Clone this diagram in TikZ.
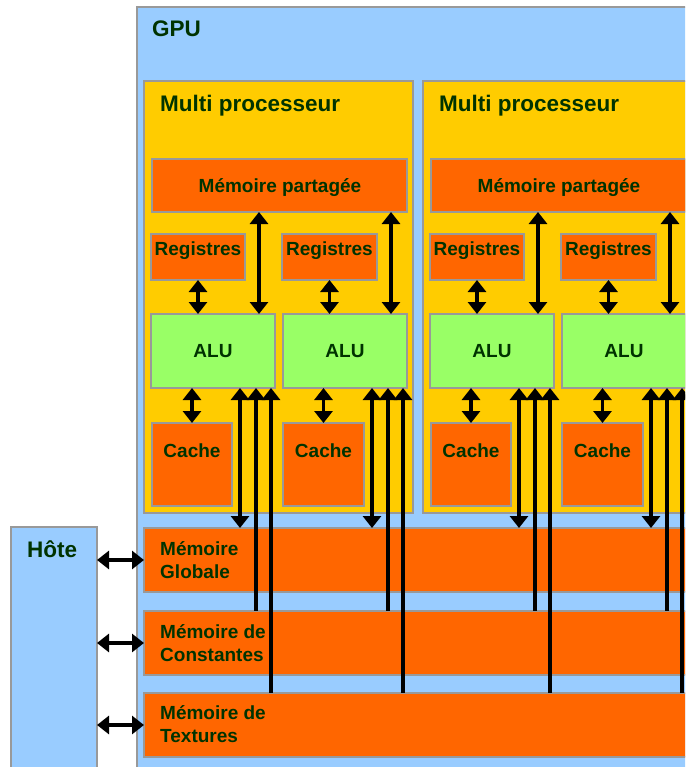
\documentclass[tikz,border=0pt]{standalone}
\usepackage{fontspec}
\setmainfont{Liberation Sans}
\usetikzlibrary{arrows.meta}
\definecolor{gpublue}{HTML}{99CCFF}
\definecolor{mpyellow}{HTML}{FFCC00}
\definecolor{memorange}{HTML}{FF6600}
\definecolor{alugreen}{HTML}{99FF66}
\definecolor{txtgreen}{HTML}{003300}
\definecolor{bordergray}{HTML}{999999}
\begin{document}
\begin{tikzpicture}[x=1pt,y=-1pt,
  box/.style={draw=bordergray, line width=1.3pt, inner sep=0pt, outer sep=0pt, anchor=north west},
  lbl/.style={text=txtgreen, inner sep=0pt, font=\bfseries\fontsize{19}{23}\selectfont},
  lblbig/.style={text=txtgreen, inner sep=0pt, font=\bfseries\fontsize{22.5}{27}\selectfont},
  arr/.style={line width=3.4pt, >={Triangle[width=18pt,length=12pt]}}]
\useasboundingbox (0,0) rectangle (685,767);
\clip (0,0) rectangle (685,767);
\fill[white] (0,0) rectangle (685,767);
% GPU
\node[box, fill=gpublue, minimum width=600pt, minimum height=800pt] (gpu) at (137,7) {};
\node[lblbig, anchor=base west] (gpul) at (152,37) {GPU};
% multiprocessors
\foreach \i/\dx in {1/0,2/279}{
  \node[box, fill=mpyellow, minimum width=269pt, minimum height=432pt] (mp\i) at (144+\dx,81) {};
  \node[lblbig, anchor=base west] (mpl\i) at (160+\dx,112) {Multi processeur};
  \node[box, fill=memorange, minimum width=255pt, minimum height=53pt] (shm\i) at (152+\dx,159) {};
  \node[lbl, anchor=base] (shml\i) at (280+\dx,193) {Mémoire partagée};
  \node[box, fill=memorange, minimum width=94pt, minimum height=46pt] (rega\i) at (151+\dx,234) {};
  \node[box, fill=memorange, minimum width=95pt, minimum height=46pt] (regb\i) at (282+\dx,234) {};
  \node[lbl, anchor=base] (regal\i) at (198+\dx,255) {Registres};
  \node[lbl, anchor=base] (regbl\i) at (329.5+\dx,255) {Registres};
  \node[box, fill=alugreen, minimum width=124pt, minimum height=74pt] (alua\i) at (151+\dx,314) {};
  \node[box, fill=alugreen, minimum width=124pt, minimum height=74pt] (alub\i) at (283+\dx,314) {};
  \node[lbl, anchor=base] (alual\i) at (213+\dx,357) {ALU};
  \node[lbl, anchor=base] (alubl\i) at (345+\dx,357) {ALU};
  \node[box, fill=memorange, minimum width=80pt, minimum height=83pt] (cacha\i) at (152+\dx,423) {};
  \node[box, fill=memorange, minimum width=81pt, minimum height=83pt] (cachb\i) at (283+\dx,423) {};
  \node[lbl, anchor=base] (cachal\i) at (192+\dx,457) {Cache};
  \node[lbl, anchor=base] (cachbl\i) at (323.5+\dx,457) {Cache};
}
% global memories
\node[box, fill=memorange, minimum width=600pt, minimum height=64pt] (glob) at (144,528) {};
\node[box, fill=memorange, minimum width=600pt, minimum height=64pt] (const) at (144,611) {};
\node[box, fill=memorange, minimum width=600pt, minimum height=64pt] (tex) at (144,693) {};
\node[lbl, anchor=base west] (globl1) at (160,555) {Mémoire};
\node[lbl, anchor=base west] (globl2) at (160,578) {Globale};
\node[lbl, anchor=base west] (constl1) at (160,638) {Mémoire de};
\node[lbl, anchor=base west] (constl2) at (160,661) {Constantes};
\node[lbl, anchor=base west] (texl1) at (160,719) {Mémoire de};
\node[lbl, anchor=base west] (texl2) at (160,742) {Textures};
% host
\node[box, fill=gpublue, minimum width=86pt, minimum height=300pt] (host) at (11,527) {};
\node[lblbig, anchor=base west] (hostl) at (27,557) {Hôte};
% arrows inside multiprocessors
\foreach \i in {1,2}{
  \foreach \a in {a,b}{
    \draw[arr,<->] (reg\a\i.south) -- (reg\a\i.south |- alu\a\i.north);
    \draw[arr,<->] (cach\a\i.north |- alu\a\i.south) -- (cach\a\i.north);
    \coordinate (ls\a\i) at ([xshift=-16pt]alu\a\i.north east);
    \draw[arr,<->] (ls\a\i) -- (ls\a\i |- shm\i.south);
    \coordinate (g\a\i) at ([xshift=-35pt]alu\a\i.south east);
    \coordinate (c\a\i) at ([xshift=-19pt]alu\a\i.south east);
    \coordinate (t\a\i) at ([xshift=-4pt]alu\a\i.south east);
    \draw[arr,<->] (g\a\i) -- (g\a\i |- glob.north);
    \draw[arr,<-] (c\a\i) -- (c\a\i |- const.north);
    \draw[arr,<-] (t\a\i) -- (t\a\i |- tex.north);
  }
}
% host arrows
\draw[arr,<->] (host.east |- glob.west) -- (glob.west);
\draw[arr,<->] (host.east |- const.west) -- (const.west);
\draw[arr,<->] (host.east |- tex.west) -- (tex.west);
\end{tikzpicture}
\end{document}
